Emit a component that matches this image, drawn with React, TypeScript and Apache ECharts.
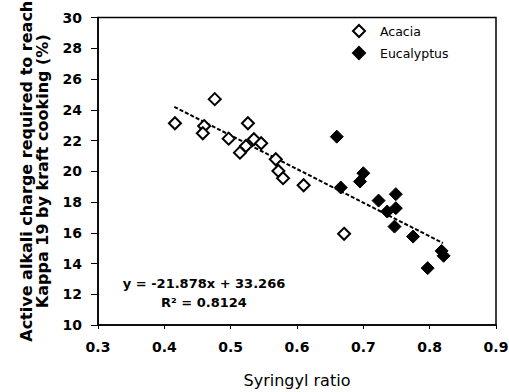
import React, { useEffect, useRef } from "react";
import * as echarts from "echarts";

const acaciaX = [0.416, 0.476, 0.46, 0.458, 0.497, 0.526, 0.514, 0.523, 0.535, 0.546, 0.568, 0.572, 0.579, 0.61, 0.671];
const acaciaY = [23.12, 24.69, 22.94, 22.47, 22.12, 23.12, 21.21, 21.64, 22.08, 21.82, 20.78, 20.02, 19.55, 19.09, 15.93];
const eucX = [0.66, 0.7, 0.695, 0.666, 0.723, 0.749, 0.736, 0.749, 0.747, 0.775, 0.818, 0.821, 0.797];
const eucY = [22.25, 19.87, 19.33, 18.94, 18.09, 18.51, 17.38, 17.6, 16.4, 15.75, 14.82, 14.5, 13.7];
const trendX = [0.415, 0.82];
const trendY = [24.19, 15.33];
const equationText = "y = -21.878x + 33.266";
const r2Text = "R² = 0.8124";
const xTicks = ["0.3", "0.4", "0.5", "0.6", "0.7", "0.8", "0.9"];

const FONT = "DejaVu Sans, sans-serif";

export default function App() {
  const ref = useRef<HTMLDivElement>(null);
  useEffect(() => {
    document.body.style.margin = "0";
    const chart = echarts.init(ref.current!, null, { renderer: "svg" });
    const pairs = (xs: number[], ys: number[]) => xs.map((x, i) => [x, ys[i]]);
    chart.setOption({
      animation: false,
      backgroundColor: "#fff",
      textStyle: { fontFamily: FONT },
      grid: { left: 98, top: 17.5, width: 398, height: 307.5, outerBoundsMode: "none", show: false },
      legend: {
        orient: "vertical",
        left: 347,
        top: 19,
        itemWidth: 12,
        itemHeight: 12,
        itemGap: 8,
        textStyle: { fontSize: 12.5, color: "#000", fontFamily: FONT, padding: [0, 0, 0, 10] },
        data: [
          { name: "Acacia", icon: "diamond" },
          { name: "Eucalyptus", icon: "diamond" },
        ],
      },
      xAxis: {
        type: "value",
        min: 0.3,
        max: 0.9,
        interval: 0.1,
        name: "Syringyl ratio",
        nameLocation: "middle",
        nameGap: 47,
        nameTextStyle: { fontSize: 16, color: "#000", fontFamily: FONT },
        axisLine: { lineStyle: { color: "#000", width: 1.5 } },
        axisTick: { inside: false, length: 4, lineStyle: { color: "#000" } },
        axisLabel: {
          fontSize: 14,
          fontWeight: "bold",
          color: "#000",
          margin: 15,
          fontFamily: FONT,
          formatter: (v: number) => xTicks[Math.round((v - 0.3) * 10)] ?? "",
        },
        splitLine: { show: false },
      },
      yAxis: {
        type: "value",
        min: 10,
        max: 30,
        interval: 2,
        name: "Active alkali charge required to reach\nKappa 19 by kraft cooking (%)",
        nameLocation: "middle",
        nameGap: 48,
        nameTextStyle: { fontSize: 16, color: "#000", fontFamily: FONT, fontWeight: "bold", lineHeight: 16 },
        axisLine: { lineStyle: { color: "#000", width: 1.5 } },
        axisTick: { inside: false, length: 7, lineStyle: { color: "#000" } },
        axisLabel: { fontSize: 14, fontWeight: "bold", color: "#000", margin: 16, fontFamily: FONT },
        splitLine: { show: false },
      },
      graphic: [
        {
          type: "rect",
          shape: { x: 98, y: 17.5, width: 398, height: 307.5 },
          style: { fill: "none", stroke: "#000", lineWidth: 1.5 },
          silent: true,
          z: 0,
        },
        {
          type: "text",
          x: 204,
          y: 283,
          style: { text: equationText, fontSize: 13, fontWeight: "bold", fill: "#000", align: "center", verticalAlign: "middle", fontFamily: FONT },
        },
        {
          type: "text",
          x: 204,
          y: 302,
          style: { text: r2Text, fontSize: 13, fontWeight: "bold", fill: "#000", align: "center", verticalAlign: "middle", fontFamily: FONT },
        },
      ],
      series: [
        {
          name: "Trend",
          type: "line",
          data: pairs(trendX, trendY),
          symbol: "none",
          lineStyle: { color: "#000", width: 2, type: [4, 2] },
          z: 1,
        },
        {
          name: "Acacia",
          type: "scatter",
          symbol: "diamond",
          symbolSize: 12,
          data: pairs(acaciaX, acaciaY),
          itemStyle: { color: "#fff", borderColor: "#000", borderWidth: 2, opacity: 1 },
          z: 3,
        },
        {
          name: "Eucalyptus",
          type: "scatter",
          symbol: "diamond",
          symbolSize: 13,
          data: pairs(eucX, eucY),
          itemStyle: { color: "#000", borderColor: "#000", borderWidth: 1, opacity: 1 },
          z: 2,
        },
      ],
    });
    return () => chart.dispose();
  }, []);
  return <div ref={ref} style={{ width: 509, height: 392 }} />;
}
